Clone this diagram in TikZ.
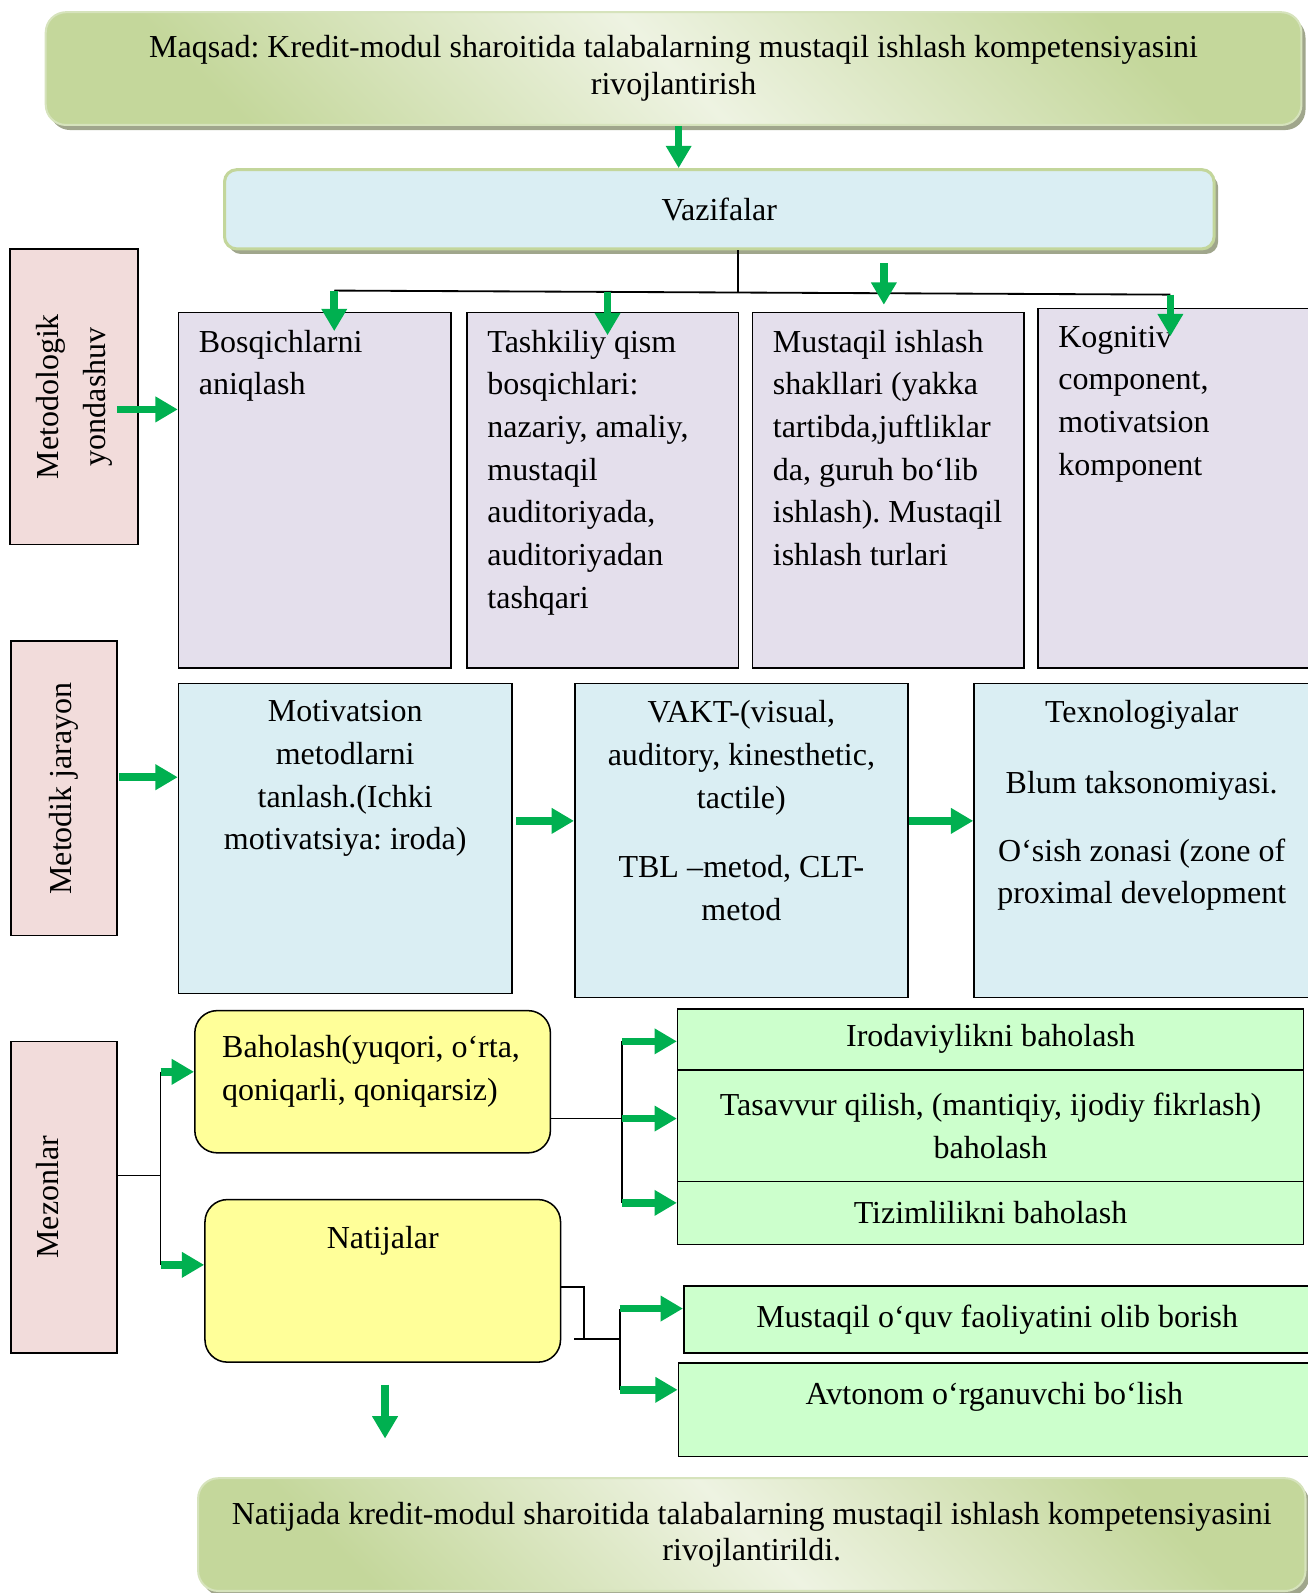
\documentclass[tikz,border=0pt]{standalone}
\usepackage{fontspec}
\setmainfont{Liberation Serif}
\usetikzlibrary{arrows.meta,shadows}
\definecolor{garw}{RGB}{0,176,80}
\definecolor{olv}{RGB}{195,214,155}
\definecolor{olvd}{RGB}{196,215,155}
\definecolor{olvl}{RGB}{238,243,226}
\definecolor{olvb}{RGB}{214,227,188}
\definecolor{shd}{RGB}{160,166,140}
\definecolor{lpurp}{RGB}{228,223,236}
\definecolor{lblue}{RGB}{218,238,243}
\definecolor{lpink}{RGB}{242,220,219}
\definecolor{lyel}{RGB}{255,255,153}
\definecolor{lgrn}{RGB}{204,255,204}
\tikzset{
  every node/.style={font=\fontsize{31.5}{42}\selectfont},
  conn/.style={draw=black, line width=1.8pt},
  garrow/.style={draw=garw, line width=7.5pt, -{Triangle[width=24pt,length=22pt]}},
  boxline/.style={draw=black, line width=1.5pt},
  goalbox/.style={rounded corners=20pt, draw=olvb, line width=2pt,
    top color=olvd, bottom color=olvd, middle color=olvl, shading angle=-45,
    drop shadow={shadow xshift=4pt, shadow yshift=-5pt, fill=shd, opacity=1},
    align=center, font=\fontsize{31.5}{36}\selectfont},
  taskbox/.style={rounded corners=12pt, draw=olv, line width=3pt, fill=lblue,
    drop shadow={shadow xshift=4pt, shadow yshift=-5pt, fill=shd, opacity=1}},
  sidebox/.style={boxline, fill=lpink, rotate=90, align=center},
  stagebox/.style={boxline, fill=lpurp, anchor=north west, inner xsep=20pt, inner ysep=17pt},
  methbox/.style={boxline, fill=lblue, anchor=north west, inner xsep=20pt, inner ysep=17pt},
  critbox/.style={boxline, fill=lyel, rounded corners=22pt, anchor=north west},
  evbox/.style={boxline, fill=lgrn, align=center}
}
\newcommand{\pb}[3]{\parbox[t][#2][t]{#1}{#3}}
\newcommand{\gar}[2]{\draw[garrow] (#1) -- (#2);}

\begin{document}
\frenchspacing
\begin{tikzpicture}[x=1pt,y=-1pt]
  \useasboundingbox (0,0) rectangle (1287,1568);

  \node[goalbox, minimum width=1236pt, minimum height=111pt] (goal) at (663,67.5)
    {Maqsad: Kredit-modul sharoitida talabalarning mustaqil ishlash kompetensiyasini\\rivojlantirish};
  \node[taskbox, minimum width=974pt, minimum height=78pt] (task) at (708,206) {Vazifalar};

  \node[sidebox, minimum width=291pt, minimum height=126pt, font=\fontsize{31.5}{46}\selectfont] (appr) at (73,390.5) {Metodologik\\yondashuv};
  \node[sidebox, minimum width=290pt, minimum height=104pt] (proc) at (63,776) {Metodik jarayon};
  \node[sidebox, minimum width=307pt, minimum height=104pt, text depth=33pt] (crit) at (63,1178.5) {Mezonlar};

  \node[stagebox] (stg1) at (175,307) {\pb{228pt}{316pt}{\raggedright Bosqichlarni\\aniqlash}};
  \node[stagebox] (stg2) at (459,307) {\pb{227pt}{316pt}{\raggedright Tashkiliy qism\\bosqichlari:\\nazariy, amaliy,\\mustaqil\\auditoriyada,\\auditoriyadan\\tashqari}};
  \node[stagebox] (stg3) at (740,307) {\pb{227pt}{316pt}{\raggedright Mustaqil ishlash\\shakllari (yakka\\\mbox{tartibda,juftliklar}\\da, guruh bo‘lib\\\mbox{ishlash). Mustaqil}\\ishlash turlari}};
  \node[stagebox] (stg4) at (1021,303) {\pb{240pt}{320pt}{\raggedright Kognitiv\\component,\\motivatsion\\komponent}};

  \node[methbox] (mth1) at (175,672) {\pb{288pt}{271pt}{\centering Motivatsion\\metodlarni\\tanlash.(Ichki\\motivatsiya: iroda)}};
  \node[methbox] (mth2) at (565,672) {\pb{288pt}{275pt}{\centering VAKT-(visual,\\auditory, kinesthetic,\\tactile)\\[26pt]TBL –metod, CLT-\\metod}};
  \node[methbox] (mth3) at (958,672) {\pb{290pt}{275pt}{\centering Texnologiyalar\\[27pt]Blum taksonomiyasi.\\[25pt]\mbox{O‘sish zonasi (zone of}\\\mbox{proximal development}}};

  \node[critbox, inner xsep=27pt, inner ysep=24.5pt] (asm) at (191,994) {\pb{296pt}{91pt}{\raggedright \mbox{Baholash(yuqori, o‘rta,}\\qoniqarli, qoniqarsiz)}};
  \node[critbox, inner xsep=20pt, inner ysep=26.5pt] (res) at (201,1180) {\pb{310pt}{107pt}{\centering Natijalar}};

  \node[evbox, minimum width=616pt, minimum height=60pt] (ev1) at (975,1023) {Irodaviylikni baholash};
  \node[evbox, minimum width=616pt, minimum height=110pt] (ev2) at (975,1108) {Tasavvur qilish, (mantiqiy, ijodiy fikrlash)\\baholash};
  \node[evbox, minimum width=616pt, minimum height=62pt] (ev3) at (975,1194) {Tizimlilikni baholash};
  \node[evbox, minimum width=617pt, minimum height=66pt] (out1) at (981.5,1299) {Mustaqil o‘quv faoliyatini olib borish};
  \node[boxline, fill=lgrn, anchor=north west, inner xsep=20pt, inner ysep=18.5pt] (out2) at (667,1341) {\pb{582pt}{55pt}{\centering Avtonom o‘rganuvchi bo‘lish}};

  \node[goalbox, minimum width=1090pt, minimum height=111pt] (final) at (740,1510.5)
    {Natijada kredit-modul sharoitida talabalarning mustaqil ishlash kompetensiyasini\\rivojlantirildi.};

  \coordinate (gq) at (668,0);
  \gar{goal.south -| gq}{task.north -| gq}

  \coordinate (vs) at (726,288);
  \coordinate (d1) at (329,286);
  \coordinate (d2) at (598,287);
  \coordinate (d3) at (870,259);
  \coordinate (d4) at (1152,290);
  \coordinate (e1) at (329,326);
  \coordinate (e2) at (598,330);
  \coordinate (e3) at (870,300);
  \coordinate (e4) at (1152,331);
  \draw[conn] (task.south -| vs) -- (vs);
  \draw[conn] (d1) -- (d4);
  \gar{d1}{e1}
  \gar{d2}{e2}
  \gar{d3}{e3}
  \gar{d4}{e4}

  \coordinate (p1) at (115,403);
  \coordinate (p2) at (117,765);
  \coordinate (p3) at (508,808);
  \coordinate (p4) at (895,808);
  \gar{p1}{stg1.west |- p1}
  \gar{p2}{mth1.west |- p2}
  \gar{p3}{mth2.west |- p3}
  \gar{p4}{mth3.west |- p4}

  \coordinate (mj) at (158,1157);
  \coordinate (mj1) at (158,1055);
  \coordinate (mj2) at (158,1245);
  \draw[conn] (crit.south |- mj) -- (mj);
  \draw[conn] (mj1) -- (mj2);
  \gar{mj1}{asm.west |- mj1}
  \gar{mj2}{res.west |- mj2}

  \coordinate (bj) at (612,1101);
  \coordinate (bj1) at (612,1025);
  \coordinate (bj3) at (612,1184);
  \draw[conn] (asm.east |- bj) -- (bj);
  \draw[conn] (bj1) -- (bj3);
  \gar{bj1}{ev1.west |- bj1}
  \gar{bj}{ev2.west |- bj}
  \gar{bj3}{ev3.west |- bj3}

  \coordinate (nk1) at (575,1267);
  \coordinate (nk2) at (575,1318);
  \coordinate (nk3) at (565,1318);
  \coordinate (nj) at (610,1318);
  \coordinate (nj1) at (610,1288);
  \coordinate (nj2) at (610,1368);
  \draw[conn] (res.east |- nk1) -- (nk1) -- (nk2);
  \draw[conn] (nk3) -- (nj);
  \draw[conn] (nj1) -- (nj2);
  \gar{nj1}{out1.west |- nj1}
  \gar{nj2}{out2.west |- nj2}

  \coordinate (f1) at (379,1363);
  \coordinate (f2) at (379,1416);
  \gar{f1}{f2}
\end{tikzpicture}
\end{document}
